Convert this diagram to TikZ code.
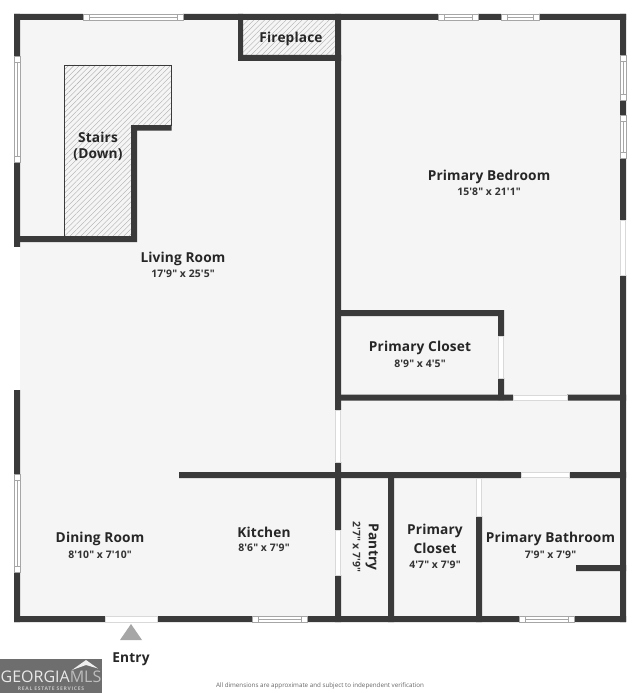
\documentclass[tikz,border=0pt]{standalone}
\usepackage{fontspec}
\newfontfamily\planfont[LetterSpace=1]{Open Sans}
\newfontfamily\plainfont{Open Sans}
\newfontfamily\subfont[LetterSpace=14]{Open Sans Bold}
\usetikzlibrary{positioning,patterns.meta}
\definecolor{wallgray}{HTML}{3A3A3A}
\definecolor{floorgray}{HTML}{F5F5F5}
\definecolor{logogray}{HTML}{6E6E6E}
\begin{document}
\begin{tikzpicture}[x=1pt,y=-1pt,on grid,
  wall/.style={fill=wallgray},
  gap/.style={fill=white,draw=black!15,line width=.5pt},
  pane/.style={draw=black!35,line width=.5pt,fill=white},
  hatched/.style={pattern={Lines[angle=45,distance=3.8pt,line width=.4pt]},pattern color=black!33},
  roomname/.style={font=\planfont\bfseries\fontsize{13.7}{16}\selectfont,text=black!85},
  roomsize/.style={font=\planfont\bfseries\fontsize{10.4}{12}\selectfont,text=black!80}]
\useasboundingbox (0,0) rectangle (640,693);

% floor
\fill[floorgray] (14,14) rectangle (626,622);

% hatched areas
\path[hatched] (243,20) rectangle (335,55);
\path[hatched] (65,65) -- (171,65) -- (171,125) -- (131,125) -- (131,236) -- (65,236) -- cycle;
\draw[wallgray,line width=.7pt] (131,125) -- (171.3,125) -- (171.3,65.2) -- (64.8,65.2) -- (64.8,236);

% outer walls
\fill[wall] (14,14) rectangle (83,20) (183,14) rectangle (438,20) (478,14) rectangle (501,20) (539,14) rectangle (626,20);
\fill[wall] (14,616) rectangle (105,622) (157,616) rectangle (252,622) (307,616) rectangle (519,622) (574,616) rectangle (626,622);
\fill[wall] (14,14) rectangle (20,56) (14,162) rectangle (20,247) (14,390) rectangle (20,474) (14,572) rectangle (20,622);
\fill[wall] (620,14) rectangle (626,55) (620,100) rectangle (626,115) (620,158) rectangle (626,220) (620,275) rectangle (626,622);

% inner walls
\fill[wall] (238,14) rectangle (243,61) (238,55) rectangle (341,61);
\fill[wall] (335,14) rectangle (341,410) (335,462) rectangle (341,530) (335,575) rectangle (341,622);
\fill[wall] (131,125) rectangle (171.5,130.5) (131,125) rectangle (137,242) (14,236) rectangle (137,242);
\fill[wall] (335,310) rectangle (504,316) (498,310) rectangle (504,336) (498,378) rectangle (504,400);
\fill[wall] (335,394.5) rectangle (513,400.5) (567,394.5) rectangle (626,400.5);
\fill[wall] (179,472) rectangle (521,478) (569,472) rectangle (626,478);
\fill[wall] (388,472) rectangle (394,622) (476,516) rectangle (482,622) (576,565) rectangle (626,571);
\fill[wall] (476,478) -- (479,474) -- (482,478) -- cycle;

% doors and open gaps
\fill[white] (14,247) rectangle (20,390);
\draw[gap] (620.3,220) rectangle (625.7,275);
\draw[gap] (105,616) rectangle (157,622);
\draw[gap] (335.3,410) rectangle (340.7,462);
\draw[gap] (335.3,530) rectangle (340.7,575);
\draw[gap] (498.3,336) rectangle (503.7,378);
\draw[gap] (513,394.8) rectangle (567,400.2);
\draw[gap] (521,472.3) rectangle (569,477.7);
\draw[gap] (476.3,478.5) rectangle (481.7,516);

% windows along the top and bottom
\foreach \xa/\xb in {83/183,438/478,501/539} {
  \draw[pane] (\xa,14) rectangle (\xb,20);
  \draw[pane] (\xa+6,14) rectangle (\xb-6,20);
  \draw[pane] (\xa+6,17) -- (\xb-6,17);
}
\foreach \xa/\xb in {252/307,519/574} {
  \draw[pane] (\xa,616) rectangle (\xb,622);
  \draw[pane] (\xa+6,616) rectangle (\xb-6,622);
  \draw[pane] (\xa+6,619) -- (\xb-6,619);
}
% windows along the sides
\foreach \ya/\yb in {56/162,474/572} {
  \draw[pane] (14,\ya) rectangle (20,\yb);
  \draw[pane] (14,\ya+6) rectangle (20,\yb-6);
  \draw[pane] (17,\ya+6) -- (17,\yb-6);
}
\foreach \ya/\yb in {55/100,115/158} {
  \draw[pane] (620,\ya) rectangle (626,\yb);
  \draw[pane] (620,\ya+6) rectangle (626,\yb-6);
  \draw[pane] (623,\ya+6) -- (623,\yb-6);
}

% rooms
\node[roomname] (fireplace) at (291,39) {Fireplace};
\node[roomname] (stairs) at (98,137) {Stairs};
\node[roomname,below=18pt of stairs] (down) {(Down)};
\node[roomname] (living) at (183,259) {Living Room};
\node[roomsize,below=15pt of living] (livingsize) {17'9" x 25'5"};
\node[roomname] (bedroom) at (489,176.5) {Primary Bedroom};
\node[roomsize,below=15.5pt of bedroom] (bedroomsize) {15'8" x 21'1"};
\node[roomname] (closeta) at (420,348) {Primary Closet};
\node[roomsize,below=16pt of closeta] (closetasize) {8'9" x 4'5"};
\node[roomname] (dining) at (100,539) {Dining Room};
\node[roomsize,below=15.5pt of dining] (diningsize) {8'10" x 7'10"};
\node[roomname] (kitchen) at (264,532) {Kitchen};
\node[roomsize,below=16pt of kitchen] (kitchensize) {8'6" x 7'9"};
\node[roomname,rotate=-90] (pantry) at (372,547) {Pantry};
\node[roomsize,rotate=-90] (pantrysize) at (356.5,547) {2'7" x 7'9"};
\node[roomname] (closetb) at (435,531) {Primary};
\node[roomname,below=17.5pt of closetb] (closetbb) {Closet};
\node[roomsize,below=16pt of closetbb] (closetbsize) {4'7" x 7'9"};
\node[roomname] (bath) at (550.5,539) {Primary Bathroom};
\node[roomsize,below=16pt of bath] (bathsize) {7'9" x 7'9"};

% entry
\fill[black!35] (120,640) -- (131,624) -- (142,640) -- cycle;
\node[roomname] (entry) at (131,659) {Entry};

% logo and note
\fill[logogray] (0,659) rectangle (102,693);
\fill[white!90!logogray] (72,670) -- (86,660) -- (98,668.5) -- (86,665) -- cycle;
\node[font=\plainfont\fontsize{16}{18}\selectfont,text=white!85!logogray] (logo) at (51,677) {GEORGIA\textcolor{white!55!logogray}{MLS}};
\node[font=\subfont\fontsize{5}{6}\selectfont,text=white!60!logogray] (logosub) at (51,689) {REAL ESTATE SERVICES};
\node[font=\plainfont\fontsize{6.25}{8}\selectfont,text=black!60] (note) at (320,686) {All dimensions are approximate and subject to independent verification};
\end{tikzpicture}
\end{document}
